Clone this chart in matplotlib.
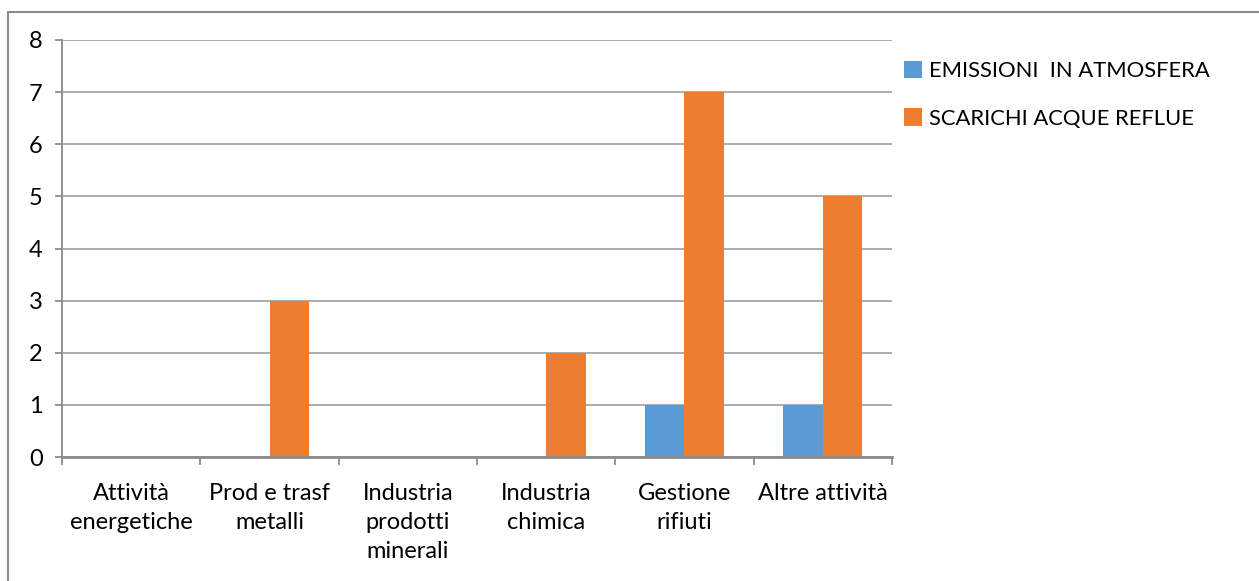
import matplotlib
matplotlib.use('Agg')
import matplotlib.pyplot as plt
from matplotlib.patches import Rectangle
import numpy

categories = ['Attività\nenergetiche', 'Prod e trasf\nmetalli', 'Industria\nprodotti\nminerali',
              'Industria\nchimica', 'Gestione\nrifiuti', 'Altre attività']
emissioni = [0, 0, 0, 0, 1, 1]
scarichi = [0, 3, 0, 2, 7, 5]
series_names = ['EMISSIONI  IN ATMOSFERA', 'SCARICHI ACQUE REFLUE']
yticks = [0, 1, 2, 3, 4, 5, 6, 7, 8]

plt.rcParams['font.family'] = ['Lato', 'DejaVu Sans']
grid_col = '#a6a6a6'
axis_col = '#8c8c8c'

fig = plt.figure(figsize=(12.59, 5.81), dpi=100)
ax = fig.add_axes([62 / 1259, 1 - 457 / 581, 830 / 1259, 417 / 581])

x = numpy.arange(len(categories))
w = 0.285
ax.bar(x - w / 2, emissioni, w, color='#5b9bd5', label=series_names[0], zorder=3)
ax.bar(x + w / 2, scarichi, w, color='#ed7d31', label=series_names[1], zorder=3)

ax.set_xlim(-0.5, len(categories) - 0.5)
ax.set_ylim(0, 8)
ax.set_yticks(yticks)
ax.set_yticklabels([str(v) for v in yticks], fontsize=17)
ax.yaxis.grid(True, color=grid_col, linewidth=1.3, zorder=0)
ax.tick_params(axis='y', length=5, width=1.3, color=axis_col, pad=9)

ax.set_xticks(x)
ax.set_xticklabels(categories, fontsize=17, linespacing=1.45, va='top')
ax.tick_params(axis='x', which='major', length=0, pad=19)
ax.set_xticks(numpy.arange(-0.5, len(categories)), minor=True)
ax.tick_params(axis='x', which='minor', length=6, width=1.3, color=axis_col)

for s in ['top', 'right']:
    ax.spines[s].set_visible(False)
ax.spines['left'].set_color(axis_col)
ax.spines['left'].set_linewidth(1.3)
ax.spines['bottom'].set_color(axis_col)
ax.spines['bottom'].set_linewidth(2)
ax.spines['bottom'].set_zorder(4)

leg = fig.legend(loc='upper left', bbox_to_anchor=(886 / 1259, 1 - 43 / 581), frameon=False,
                 fontsize=15.8, handlelength=0.85, handleheight=0.85, handletextpad=0.3,
                 labelspacing=1.25, borderpad=0.3)

fig.patches.append(Rectangle((8 / 1259, -0.1), 1.2, 1.1 - 12 / 581, transform=fig.transFigure,
                             fill=False, edgecolor=axis_col, linewidth=1.5))

fig.savefig('out.png', dpi=100)
